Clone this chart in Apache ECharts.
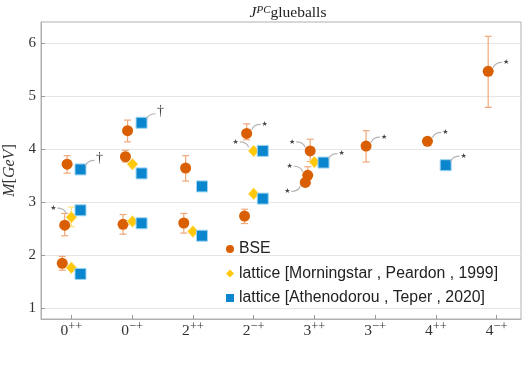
<!DOCTYPE html>
<html><head><meta charset="utf-8">
<script src="https://cdn.jsdelivr.net/npm/echarts@6/dist/echarts.min.js"></script>
<style>html,body{margin:0;padding:0;background:#fff}#c{width:523px;height:365px}</style>
</head><body><div id="c"></div>
<script>
// Categories (J^PC)
const catBase = ['0','0','2','2','3','3','4','4'];
const catSup  = ['++','\u2212+','++','\u2212+','++','\u2212+','++','\u2212+'];
const catPos  = [1,2,3,4,5,6,7,8];
const yTicks  = [1,2,3,4,5,6];

// BSE: [category position, x offset, mass, err low, err high]
const bse = [
  [1,-0.15,1.85,1.72,1.98],
  [1,-0.11,2.57,2.37,2.79],
  [1,-0.07,3.72,3.55,3.88],
  [2,-0.15,2.585,2.40,2.77],
  [2,-0.11,3.86,3.76,3.98],
  [2,-0.075,4.35,4.14,4.55],
  [3,-0.15,2.61,2.42,2.79],
  [3,-0.12,3.645,3.40,3.88],
  [4,-0.15,2.74,2.60,2.87],
  [4,-0.115,4.30,4.18,4.48],
  [5,-0.15,3.375,3.30,3.45],
  [5,-0.11,3.51,3.36,3.67],
  [5,-0.07,3.97,3.77,4.19],
  [6,-0.15,4.06,3.76,4.35],
  [7,-0.14,4.15,null,null],
  [8,-0.14,5.47,4.79,6.13]
];
// lattice [Morningstar, Peardon, 1999]
const morn = [
  [1,0,1.765,null,null],
  [1,0,2.72,2.54,2.91],
  [2,0.005,2.64,null,null],
  [2,0.005,3.72,null,null],
  [3,0,2.45,null,null],
  [4,0,3.16,null,null],
  [4,0,3.97,null,null],
  [5,0,3.76,null,null]
];
// lattice [Athenodorou, Teper, 2020]
const athe = [
  [1,0.15,1.65],
  [1,0.15,2.85],
  [1,0.15,3.62],
  [2,0.155,2.605],
  [2,0.155,3.545],
  [2,0.155,4.50],
  [3,0.15,2.37],
  [3,0.15,3.30],
  [4,0.15,3.07],
  [4,0.15,3.97],
  [5,0.15,3.75],
  [7,0.16,3.70]
];
// Annotations: [series, index, direction, symbol]
const notes = [
  ['athe',2,'ur','\u2020'],
  ['athe',5,'ur','\u2020'],
  ['morn',1,'ul','\u2605'],
  ['bse',9,'ur','\u2605'],
  ['morn',6,'ul','\u2605'],
  ['bse',12,'ul','\u2605'],
  ['athe',10,'ur','\u2605'],
  ['bse',11,'ul','\u2605'],
  ['bse',10,'ll','\u2605'],
  ['bse',13,'ur','\u2605'],
  ['bse',14,'ur','\u2605'],
  ['athe',11,'ur','\u2605'],
  ['bse',15,'ur','\u2605']
];

const C_BSE='#D95F02', C_BSE_ERR='#F0A878', C_MORN='#FFC80A', C_MORN_ERR='#FFE27A', C_ATHE='#0A86CE';
const SERIF='"Liberation Serif","DejaVu Serif",serif';
const SANS='"Liberation Sans",Arial,sans-serif';

const src = {bse:bse, morn:morn, athe:athe};
const pts = a => a.map(r => [r[0]+r[1], r[2]]);
const errs = a => a.filter(r => r[3]!=null).map(r => [r[0]+r[1], r[3], r[4]]);

function errRender(color){
  return function(params, api){
    const x=api.value(0), a=api.coord([x,api.value(1)]), b=api.coord([x,api.value(2)]);
    const w=3.5, st={stroke:color,lineWidth:1.2};
    return {type:'group',children:[
      {type:'line',shape:{x1:a[0],y1:a[1],x2:b[0],y2:b[1]},style:st},
      {type:'line',shape:{x1:a[0]-w,y1:a[1],x2:a[0]+w,y2:a[1]},style:st},
      {type:'line',shape:{x1:b[0]-w,y1:b[1],x2:b[0]+w,y2:b[1]},style:st}
    ]};
  };
}
const noteData = notes.map(n => { const r=src[n[0]][n[1]]; return [r[0]+r[1], r[2]]; });
function noteRender(params, api){
  const n=notes[params.dataIndex];
  const p=api.coord([api.value(0),api.value(1)]);
  const sx = n[2]==='ur'?1:-1, sy = n[2]==='ll'?1:-1;
  const dag = n[3]==='\u2020';
  return {type:'group',children:[
    {type:'bezierCurve',shape:{x1:p[0]+5*sx,y1:p[1]+3.5*sy,cpx1:p[0]+7*sx,cpy1:p[1]+9*sy,x2:p[0]+14*sx,y2:p[1]+9*sy},
     style:{stroke:'#b4b4b4',fill:null,lineWidth:1.2}},
    {type:'text',style:{text:n[3],x:p[0]+(dag?19:18)*sx,y:p[1]+(dag?11:9)*sy,align:'center',verticalAlign:'middle',
      fill:'#444',font: dag ? '14px '+SERIF : '7px "DejaVu Sans"'}}
  ]};
}

const chart = echarts.init(document.getElementById('c'), null, {renderer:'canvas'});
chart.setOption({
  animation:false,
  title:{text:'{i|J}{s|PC}{n|glueballs}',left:283,top:0,textAlign:'center',
    textStyle:{fontWeight:'normal',rich:{
      i:{fontFamily:SERIF,fontStyle:'italic',fontWeight:'normal',fontSize:15.5,color:'#222',lineHeight:16,verticalAlign:'bottom'},
      s:{fontFamily:SERIF,fontStyle:'italic',fontWeight:'normal',fontSize:11,color:'#222',lineHeight:16,verticalAlign:'top'},
      n:{fontFamily:SERIF,fontWeight:'normal',fontSize:15.5,color:'#222',lineHeight:16,verticalAlign:'bottom'}}}},
  grid:{left:41,right:2,top:22,bottom:46,show:true,borderColor:'#b0b0b0',borderWidth:1,containLabel:false,outerBoundsMode:'none'},
  legend:{orient:'vertical',left:226,top:241,padding:0,itemWidth:8,itemHeight:8,itemGap:8.5,itemStyle:{borderWidth:0},
    textStyle:{fontFamily:SANS,fontSize:15.8,color:'#222',lineHeight:16},
    data:[{name:'BSE',icon:'circle'},{name:'lattice [Morningstar , Peardon , 1999]',icon:'diamond'},{name:'lattice [Athenodorou , Teper , 2020]',icon:'rect'}]},
  xAxis:{type:'value',min:0.5,max:8.4,
    axisLine:{show:true,onZero:false,lineStyle:{color:'#b0b0b0'}},
    axisTick:{show:true,inside:true,length:4,customValues:catPos,lineStyle:{color:'#999'}},
    splitLine:{show:false},
    axisLabel:{customValues:catPos,margin:1,
      formatter:v=>{const i=Math.round(v)-1;return '{b|'+catBase[i]+'}{s|'+catSup[i]+'}';},
      rich:{b:{fontFamily:SERIF,fontSize:15.5,color:'#333',lineHeight:19,verticalAlign:'bottom'},
            s:{fontFamily:SERIF,fontSize:12.5,color:'#333',lineHeight:19,verticalAlign:'top'}}}},
  yAxis:{type:'value',min:0.8,max:6.4,
    name:'{i|M}{u|[}{i|GeV}{u|]}',nameLocation:'middle',nameGap:23,nameRotate:90,
    nameTextStyle:{rich:{i:{fontFamily:SERIF,fontStyle:'italic',fontSize:16,color:'#333'},u:{fontFamily:SERIF,fontSize:16,color:'#333'}}},
    axisLine:{show:true,lineStyle:{color:'#b0b0b0'}},
    axisTick:{show:true,inside:true,length:4,customValues:yTicks,lineStyle:{color:'#999'}},
    splitLine:{show:true,lineStyle:{color:'#e6e6e6',width:1}},
    axisLabel:{customValues:yTicks,margin:5,fontFamily:SERIF,fontSize:15,color:'#333'}},
  series:[
    {type:'custom',name:'bseErr',data:errs(bse),renderItem:errRender(C_BSE_ERR),encode:{x:0,y:[1,2]},z:1,silent:true},
    {type:'custom',name:'mornErr',data:errs(morn),renderItem:errRender(C_MORN_ERR),encode:{x:0,y:[1,2]},z:1,silent:true},
    {type:'scatter',name:'BSE',data:pts(bse),symbol:'circle',symbolSize:11,itemStyle:{color:C_BSE,opacity:1},z:3},
    {type:'scatter',name:'lattice [Morningstar , Peardon , 1999]',data:pts(morn),symbol:'diamond',symbolSize:[11,12],itemStyle:{color:C_MORN,opacity:1,borderColor:'#ffe79a',borderWidth:0.8},z:3},
    {type:'scatter',name:'lattice [Athenodorou , Teper , 2020]',data:pts(athe),symbol:'rect',symbolSize:11,itemStyle:{color:C_ATHE,opacity:1,borderColor:'#9fd4f2',borderWidth:1},z:4},
    {type:'custom',name:'notes',data:noteData,renderItem:noteRender,encode:{x:0,y:1},z:5,silent:true}
  ]
});
</script></body></html>
